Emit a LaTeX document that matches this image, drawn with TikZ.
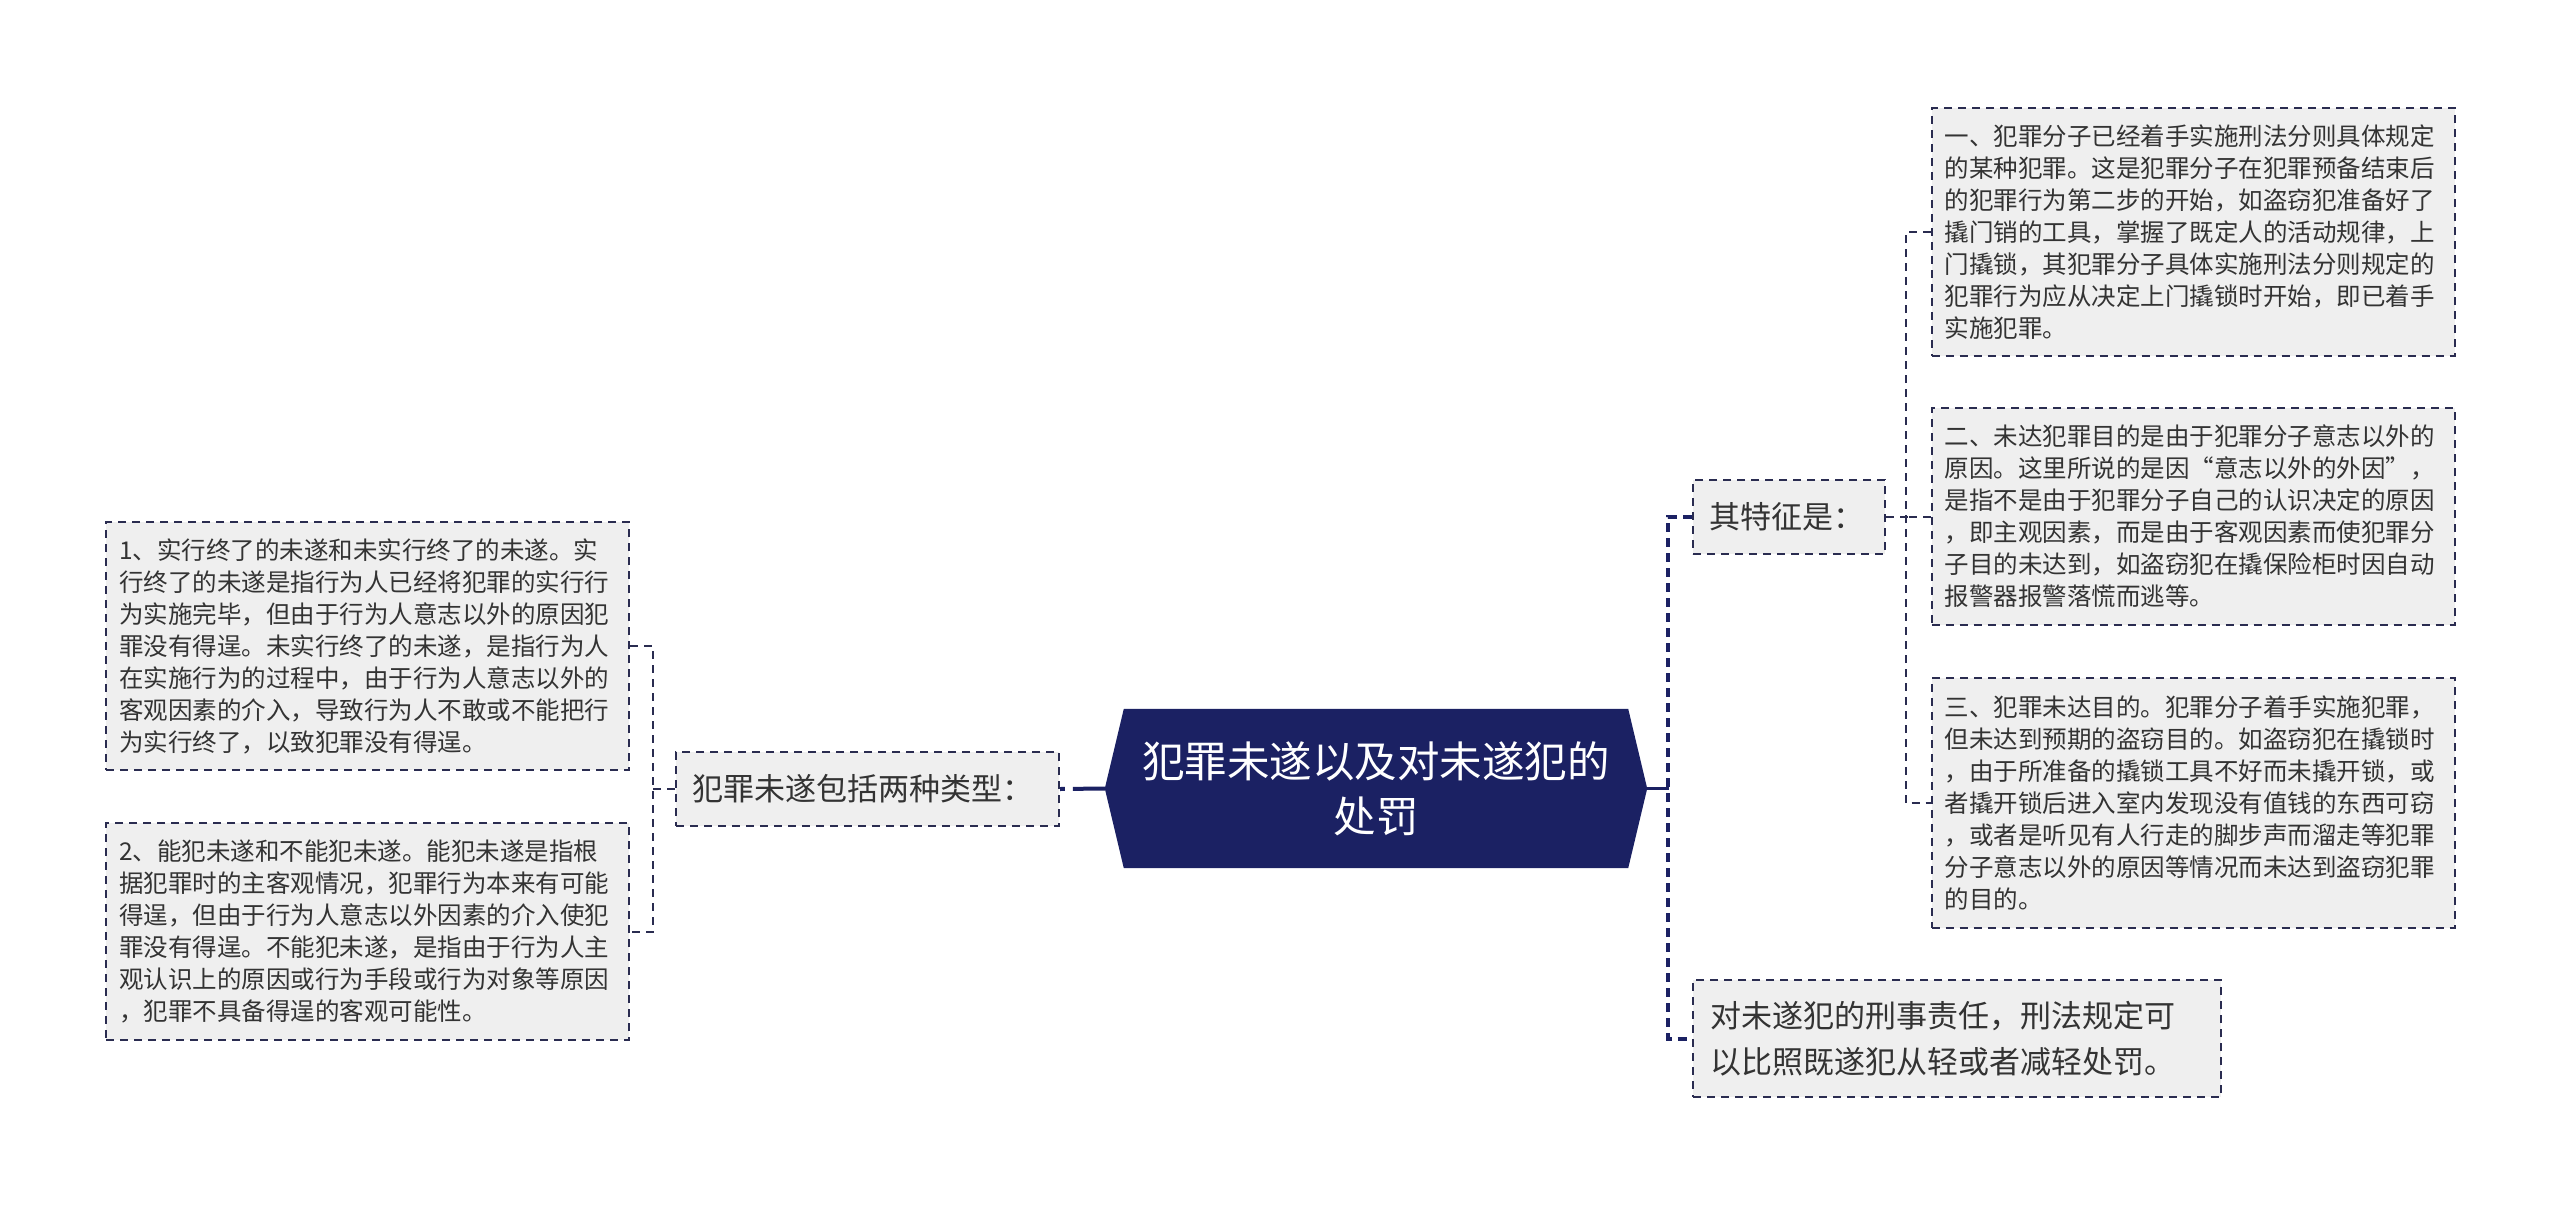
\documentclass[tikz,border=0pt]{standalone}
\usepackage{fontspec}
\newfontfamily\cjk{Noto Sans CJK SC}
\definecolor{navy}{HTML}{1B2163}
\definecolor{edge}{HTML}{2A2C50}
\definecolor{boxfill}{HTML}{EFEFEF}
\definecolor{txt}{HTML}{333333}
\tikzset{
  base/.style={draw=edge, line width=2pt, dash pattern=on 8pt off 6pt, fill=boxfill, text=txt, inner sep=0pt, anchor=center},
  leafbox/.style={base, minimum width=523pt, text width=497pt, align=left, font={\cjk\fontsize{24.5}{32}\selectfont}},
  midbox/.style={base, minimum height=74pt, align=left, font={\cjk\fontsize{31}{46}\selectfont}},
  thinlink/.style={draw=edge, line width=2pt, dash pattern=on 8pt off 6pt},
  thicklink/.style={draw=navy, line width=4pt, dash pattern=on 9pt off 6pt},
}
\begin{document}
\begin{tikzpicture}[x=1pt, y=-1pt]
\useasboundingbox (0,0) rectangle (2560,1205);
% central
\node[minimum width=542pt, minimum height=159pt, inner sep=0pt] (C) at (1376,788.5) {};
\fill[navy] ([xshift=19pt]C.north west) -- ([xshift=-19pt]C.north east) -- (C.east) -- ([xshift=-19pt]C.south east) -- ([xshift=19pt]C.south west) -- (C.west) -- cycle;
\node[text=white, align=center, font={\cjk\fontsize{42.5}{55}\selectfont}] (Ct) at (C.center) {犯罪未遂以及对未遂犯的\\处罚};
% left side
\node[midbox, minimum width=383pt, text width=351pt] (L) at (867.5,789) {犯罪未遂包括两种类型：};
\node[leafbox, minimum height=248pt] (L1) at (367.5,646) {1、实行终了的未遂和未实行终了的未遂。实\\行终了的未遂是指行为人已经将犯罪的实行行\\为实施完毕，但由于行为人意志以外的原因犯\\罪没有得逞。未实行终了的未遂，是指行为人\\在实施行为的过程中，由于行为人意志以外的\\客观因素的介入，导致行为人不敢或不能把行\\为实行终了，以致犯罪没有得逞。};
\node[leafbox, minimum height=217pt] (L2) at (367.5,931.5) {2、能犯未遂和不能犯未遂。能犯未遂是指根\\据犯罪时的主客观情况，犯罪行为本来有可能\\得逞，但由于行为人意志以外因素的介入使犯\\罪没有得逞。不能犯未遂，是指由于行为人主\\观认识上的原因或行为手段或行为对象等原因\\，犯罪不具备得逞的客观可能性。};
% right side
\node[midbox, minimum width=192pt, text width=160pt] (Q) at (1789,517) {其特征是：};
\node[midbox, minimum width=528pt, minimum height=117pt, text width=494pt] (B) at (1957,1038.5) {对未遂犯的刑事责任，刑法规定可\\以比照既遂犯从轻或者减轻处罚。};
\node[leafbox, minimum height=248pt] (R1) at (2193,232) {一、犯罪分子已经着手实施刑法分则具体规定\\的某种犯罪。这是犯罪分子在犯罪预备结束后\\的犯罪行为第二步的开始，如盗窃犯准备好了\\撬门销的工具，掌握了既定人的活动规律，上\\门撬锁，其犯罪分子具体实施刑法分则规定的\\犯罪行为应从决定上门撬锁时开始，即已着手\\实施犯罪。};
\node[leafbox, minimum height=217pt] (R2) at (2193,516.5) {二、未达犯罪目的是由于犯罪分子意志以外的\\原因。这里所说的是因“意志以外的外因”，\\是指不是由于犯罪分子自己的认识决定的原因\\，即主观因素，而是由于客观因素而使犯罪分\\子目的未达到，如盗窃犯在撬保险柜时因自动\\报警器报警落慌而逃等。};
\node[leafbox, minimum height=250pt] (R3) at (2193,803) {三、犯罪未达目的。犯罪分子着手实施犯罪，\\但未达到预期的盗窃目的。如盗窃犯在撬锁时\\，由于所准备的撬锁工具不好而未撬开锁，或\\者撬开锁后进入室内发现没有值钱的东西可窃\\，或者是听见有人行走的脚步声而溜走等犯罪\\分子意志以外的原因等情况而未达到盗窃犯罪\\的目的。};
% connectors
\draw[draw=navy, line width=4pt, dash pattern=on 32pt off 8pt] (C.west) -- (L.east);
\draw[thinlink] (L.west) -- ++(-24,0);
\draw[thinlink] (L1.east) -- ++(23,0) |- (L2.east);
\draw[draw=navy, line width=3pt] (C.east) -- ++(22,0);
\draw[thicklink] (Q.west) -- ++(-24,0) |- (B.west);
\draw[thinlink] (Q.east) -- ++(22,0);
\draw[thinlink] (R1.west) -- ++(-25,0) |- (R3.west);
\draw[thinlink] (R2.west) -- ++(-25,0);
\end{tikzpicture}
\end{document}
